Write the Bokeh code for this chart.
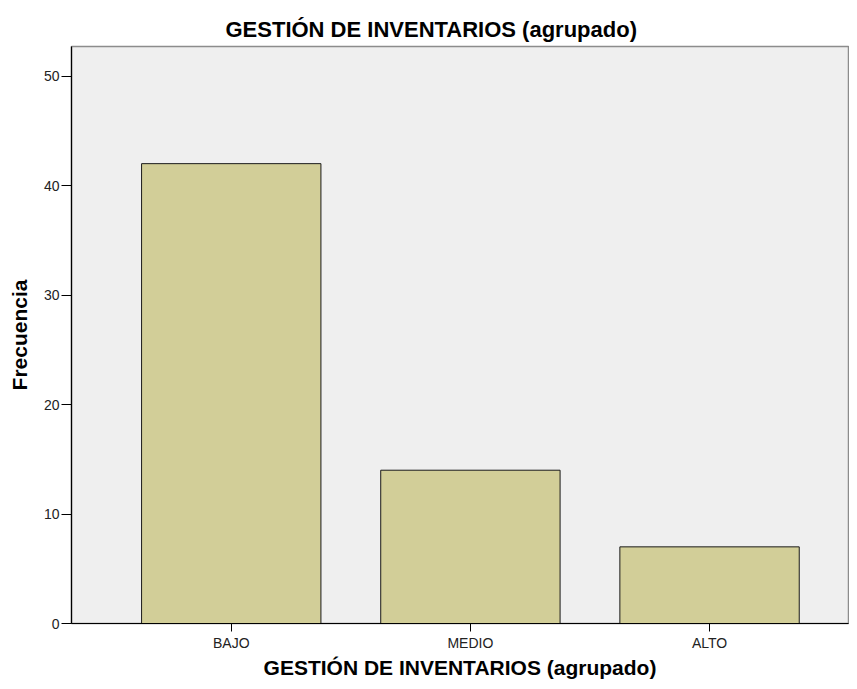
from bokeh.plotting import figure
from bokeh.models import Range1d, Title
from bokeh.embed import file_html
from bokeh.resources import INLINE

categories = ["BAJO", "MEDIO", "ALTO"]
frequencies = [42, 14, 7]
y_ticks = [0, 10, 20, 30, 40, 50]

title_text = "GESTIÓN DE INVENTARIOS (agrupado)"
x_label = "GESTIÓN DE INVENTARIOS (agrupado)"
y_label = "Frecuencia"

x_pos = list(range(len(categories)))
FONT = "Liberation Sans"

p = figure(width=849, height=681, output_backend="svg", toolbar_location=None,
           x_range=Range1d(-0.668, 2.581), y_range=Range1d(0, 52.7),
           min_border_left=71, min_border_right=1, min_border_top=46,
           min_border_bottom=57)
p.title.visible = False
p.background_fill_color = "#EFEFEF"
p.border_fill_color = "white"
p.outline_line_color = "#8c8c8c"
p.outline_line_width = 1.5

p.vbar(x=x_pos, top=frequencies, width=0.75, bottom=0,
       fill_color="#D2CE98", line_color="#1a1a1a", line_width=1)

p.grid.visible = False

p.yaxis.ticker = y_ticks
p.yaxis.axis_label = y_label
p.yaxis.axis_label_standoff = 10

p.xaxis.ticker = x_pos
p.xaxis.major_label_overrides = {i: c for i, c in enumerate(categories)}
p.xaxis.axis_label = x_label
p.xaxis.axis_label_standoff = 2

for ax in (p.xaxis, p.yaxis):
    ax.axis_line_color = "black"
    ax.axis_line_width = 1.2
    ax.major_tick_line_color = "black"
    ax.major_tick_in = 0
    ax.minor_tick_line_color = None
    ax.major_label_text_font = FONT
    ax.major_label_text_font_size = "14px"
    ax.major_label_text_color = "#222222"
    ax.major_label_standoff = 3
    ax.axis_label_text_font = FONT
    ax.axis_label_text_font_style = "bold"
    ax.axis_label_text_font_size = "21px"
    ax.axis_label_text_color = "black"
p.yaxis.major_tick_out = 10
p.yaxis.major_label_standoff = 2
p.xaxis.major_tick_out = 8

t = Title(text=title_text, align="left", offset=154, text_font=FONT,
          text_font_style="bold", text_font_size="22px", text_color="black",
          standoff=10)
p.add_layout(t, "above")

open("out.html", "w").write(file_html(p, INLINE))
